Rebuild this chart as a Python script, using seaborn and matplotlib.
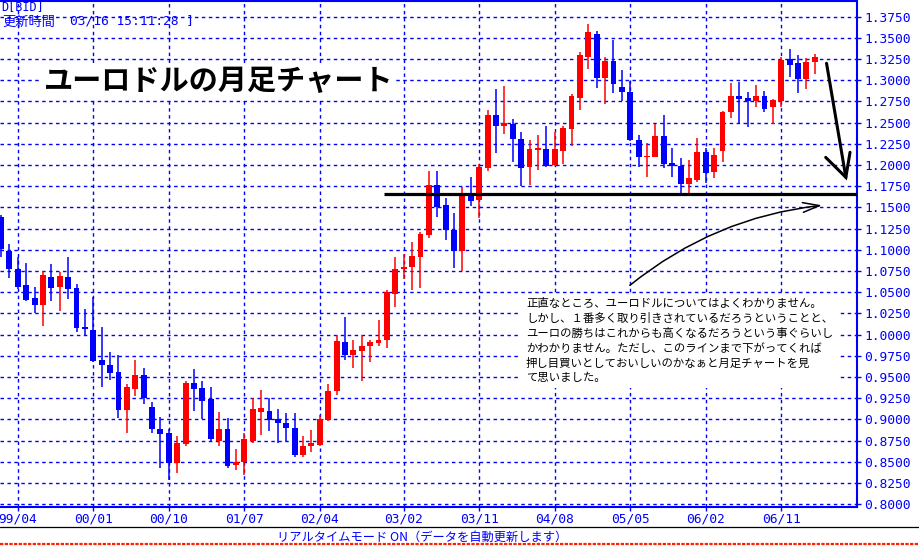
import numpy as np
import pandas as pd
import matplotlib
matplotlib.use("Agg")
import matplotlib.pyplot as plt
import seaborn as sns
from matplotlib.patches import Rectangle, FancyArrowPatch, ArrowStyle
from matplotlib.lines import Line2D

# ---------------- data (monthly EUR/USD candles, Feb 1999 - Mar 2007) ----------------
months = pd.period_range("1999-02", "2007-03", freq="M")
opens = [1.139, 1.098, 1.077, 1.058, 1.043, 1.035, 1.068, 1.056, 1.068, 1.055,
         1.009, 1.005, 0.970, 0.964, 0.956, 0.911, 0.936, 0.952, 0.914, 0.888,
         0.884, 0.848, 0.871, 0.943, 0.937, 0.924, 0.874, 0.888, 0.846, 0.850,
         0.875, 0.909, 0.910, 0.900, 0.896, 0.890, 0.858, 0.868, 0.870, 0.899,
         0.933, 0.991, 0.976, 0.981, 0.986, 0.990, 0.993, 1.048, 1.077, 1.080,
         1.092, 1.118, 1.177, 1.153, 1.123, 1.098, 1.167, 1.159, 1.196, 1.259,
         1.246, 1.248, 1.231, 1.198, 1.218, 1.219, 1.200, 1.217, 1.243, 1.279,
         1.327, 1.355, 1.303, 1.323, 1.292, 1.286, 1.230, 1.209, 1.210, 1.234,
         1.202, 1.199, 1.178, 1.182, 1.215, 1.192, 1.216, 1.262, 1.281, 1.279,
         1.276, 1.281, 1.268, 1.276, 1.325, 1.320, 1.302, 1.322]
highs = [1.141, 1.107, 1.091, 1.084, 1.056, 1.075, 1.083, 1.074, 1.091, 1.060,
         1.030, 1.044, 1.009, 0.979, 0.976, 0.942, 0.970, 0.960, 0.920, 0.903,
         0.889, 0.880, 0.945, 0.959, 0.945, 0.938, 0.909, 0.901, 0.865, 0.884,
         0.925, 0.934, 0.925, 0.912, 0.908, 0.907, 0.880, 0.887, 0.905, 0.942,
         0.999, 1.021, 0.993, 0.999, 0.993, 1.017, 1.052, 1.091, 1.095, 1.109,
         1.121, 1.193, 1.193, 1.161, 1.143, 1.174, 1.186, 1.201, 1.265, 1.290,
         1.293, 1.254, 1.239, 1.229, 1.235, 1.246, 1.239, 1.246, 1.284, 1.333,
         1.366, 1.358, 1.327, 1.348, 1.312, 1.299, 1.235, 1.226, 1.248, 1.259,
         1.220, 1.208, 1.206, 1.232, 1.220, 1.220, 1.264, 1.297, 1.298, 1.286,
         1.294, 1.287, 1.278, 1.327, 1.337, 1.330, 1.326, 1.331]
lows = [1.092, 1.067, 1.054, 1.039, 1.025, 1.010, 1.039, 1.028, 1.042, 1.003,
        0.999, 0.968, 0.938, 0.946, 0.902, 0.884, 0.928, 0.918, 0.884, 0.843,
        0.828, 0.837, 0.868, 0.910, 0.900, 0.875, 0.869, 0.843, 0.840, 0.834,
        0.872, 0.882, 0.886, 0.872, 0.874, 0.856, 0.855, 0.862, 0.869, 0.898,
        0.929, 0.970, 0.961, 0.945, 0.968, 0.987, 0.984, 1.033, 1.066, 1.053,
        1.055, 1.114, 1.139, 1.111, 1.079, 1.075, 1.152, 1.137, 1.193, 1.214,
        1.237, 1.204, 1.175, 1.176, 1.194, 1.198, 1.199, 1.201, 1.222, 1.265,
        1.313, 1.291, 1.272, 1.285, 1.276, 1.228, 1.198, 1.186, 1.209, 1.196,
        1.186, 1.165, 1.166, 1.180, 1.179, 1.185, 1.203, 1.255, 1.248, 1.245,
        1.269, 1.262, 1.248, 1.268, 1.304, 1.285, 1.290, 1.307]
closes = [1.101, 1.077, 1.056, 1.041, 1.035, 1.070, 1.055, 1.069, 1.054, 1.008,
          1.007, 0.969, 0.964, 0.955, 0.911, 0.938, 0.952, 0.925, 0.888, 0.883,
          0.849, 0.872, 0.943, 0.936, 0.922, 0.877, 0.888, 0.845, 0.850, 0.877,
          0.912, 0.913, 0.899, 0.896, 0.890, 0.858, 0.868, 0.872, 0.900, 0.933,
          0.992, 0.976, 0.982, 0.987, 0.991, 0.993, 1.050, 1.077, 1.080, 1.093,
          1.119, 1.177, 1.150, 1.123, 1.098, 1.166, 1.158, 1.198, 1.259, 1.246,
          1.250, 1.231, 1.197, 1.219, 1.220, 1.199, 1.219, 1.244, 1.282, 1.330,
          1.357, 1.303, 1.323, 1.296, 1.286, 1.229, 1.209, 1.211, 1.234, 1.201,
          1.199, 1.178, 1.185, 1.215, 1.191, 1.212, 1.262, 1.281, 1.278, 1.276,
          1.281, 1.266, 1.277, 1.324, 1.318, 1.302, 1.322, 1.328]

x_tick_labels = ["99/04", "00/01", "00/10", "01/07", "02/04", "03/02",
                 "03/11", "04/08", "05/05", "06/02", "06/11"]
y_ticks = np.round(np.arange(0.800, 1.3751, 0.025), 3)
support_level = 1.1656      # horizontal black line
support_start = 45.6        # month index where the line starts

title = "ユーロドルの月足チャート"
note_lines = [
    "正直なところ、ユーロドルについてはよくわかりません。",
    "しかし、１番多く取り引きされているだろうということと、",
    "ユーロの勝ちはこれからも高くなるだろうという事ぐらいし",
    "かわかりません。ただし、このラインまで下がってくれば",
    "押し目買いとしておいしいのかなぁと月足チャートを見",
    "て思いました。",
]
status_text = "リアルタイムモード ON（データを自動更新します）"

# ---------------- style ----------------
W, H = 920, 550
sns.set_theme(style="white")
plt.rcParams["font.family"] = ["DejaVu Sans Mono", "Noto Sans CJK JP"]
CJK = ["Noto Sans CJK JP", "DejaVu Sans"]
BLUE = "#0000FF"
RED = "#FF0000"
XMIN, XMAX = -0.12, 102.03
YMIN, YMAX = 0.7962, 1.3935


def fx(x):
    return x / W


def fy(y):
    return 1 - y / H


fig = plt.figure(figsize=(W / 100, H / 100), dpi=100)
fig.patch.set_facecolor("white")
ax = fig.add_axes([0, fy(507.3), fx(857), (507.3 - 1) / H])
ax.set_facecolor("white")

df = pd.DataFrame({"month": months, "open": opens, "high": highs,
                   "low": lows, "close": closes})
df["idx"] = np.arange(len(df))
df["label"] = df["month"].dt.strftime("%y/%m")
up = df["close"] >= df["open"]
colors = np.where(up, RED, BLUE)
bottoms = np.minimum(df["open"], df["close"])
heights = np.maximum((df["close"] - df["open"]).abs(), 0.0012)

ax.vlines(df["idx"], df["low"], df["high"], colors=colors, lw=1.1, zorder=3)
ax.bar(df["idx"], heights, bottom=bottoms, width=0.7, color=colors,
       edgecolor="none", linewidth=0, zorder=4)

# axes / grid
ax.set_xlim(XMIN, XMAX)
ax.set_ylim(YMIN, YMAX)
ax.set_yticks(y_ticks)
ax.set_yticklabels([f"{v:.4f}" for v in y_ticks])
x_pos = [int(df.index[df["label"] == lab][0]) for lab in x_tick_labels]
ax.set_xticks(x_pos)
ax.set_xticklabels(x_tick_labels)
ax.grid(True, color=BLUE, linestyle=(0, (2.5, 2.5)), linewidth=1.0)
ax.set_axisbelow(True)
for s in ["top", "right", "bottom"]:
    ax.spines[s].set_color(BLUE)
    ax.spines[s].set_linewidth(1.5)
    ax.spines[s].set_visible(True)
ax.spines["left"].set_visible(False)
ax.yaxis.tick_right()
ax.tick_params(axis="y", which="major", direction="out", length=3, width=1,
               colors=BLUE, labelsize=9.3, pad=2, left=False, right=True)
ax.tick_params(axis="x", which="major", direction="out", length=3, width=1,
               colors=BLUE, labelsize=9.3, pad=1, bottom=True)

# support line
ax.hlines(support_level, support_start, XMAX, color="black", lw=2.3, zorder=5)

# thick down arrow (upper right)
ax.plot([98.4, 100.7], [1.320, 1.1855], color="black", lw=2.2, zorder=6,
        solid_capstyle="round")
ax.plot([98.3, 100.7, 101.2], [1.209, 1.1855, 1.215], color="black", lw=2.2,
        zorder=6, solid_capstyle="round", solid_joinstyle="miter")

# curved thin arrow from the note to the line
arr = FancyArrowPatch((74.7, 1.056), (98.2, 1.1528),
                      arrowstyle=ArrowStyle("->", head_length=1.2, head_width=0.35),
                      mutation_scale=10, connectionstyle="arc3,rad=-0.15",
                      lw=1.1, color="black", zorder=6)
ax.add_patch(arr)

# ---------------- texts ----------------
fig.text(fx(1), fy(10), "D[BID]", color=BLUE, fontsize=8.5,
         family="DejaVu Sans Mono", va="baseline", ha="left")
fig.text(fx(2.5), fy(26), "更新時間", color=BLUE, fontsize=9.5,
         family=CJK, va="baseline", ha="left")
fig.text(fx(70), fy(25), "03/16 15:11:28 ]", color=BLUE, fontsize=9.3,
         family="DejaVu Sans Mono", va="baseline", ha="left")

fig.text(fx(44), fy(89.5), title, color="black", fontsize=21, weight="bold",
         family=CJK, va="baseline", ha="left",
         bbox=dict(facecolor="white", edgecolor="none", pad=2))

fig.add_artist(Rectangle((fx(519), fy(388)), fx(838) - fx(519), fy(294) - fy(388),
                         transform=fig.transFigure, facecolor="white",
                         edgecolor="none", zorder=1))
for k, line in enumerate(note_lines):
    fig.text(fx(526), fy(307.3 + 14.8 * k), line, color="black", fontsize=8.2,
             family=CJK, va="baseline", ha="left", zorder=3)

# status bar
fig.add_artist(Line2D([0, 1], [fy(527.3), fy(527.3)], transform=fig.transFigure,
                      color="black", lw=0.9))
fig.add_artist(Line2D([0, 1], [fy(543.5), fy(543.5)], transform=fig.transFigure,
                      color="#FF2200", lw=1.6, linestyle=(0, (1.5, 0.6))))
fig.text(fx(422), fy(537), status_text, color=BLUE, fontsize=8.8, family=CJK,
         va="center", ha="center")

fig.savefig("out.png", dpi=100)
